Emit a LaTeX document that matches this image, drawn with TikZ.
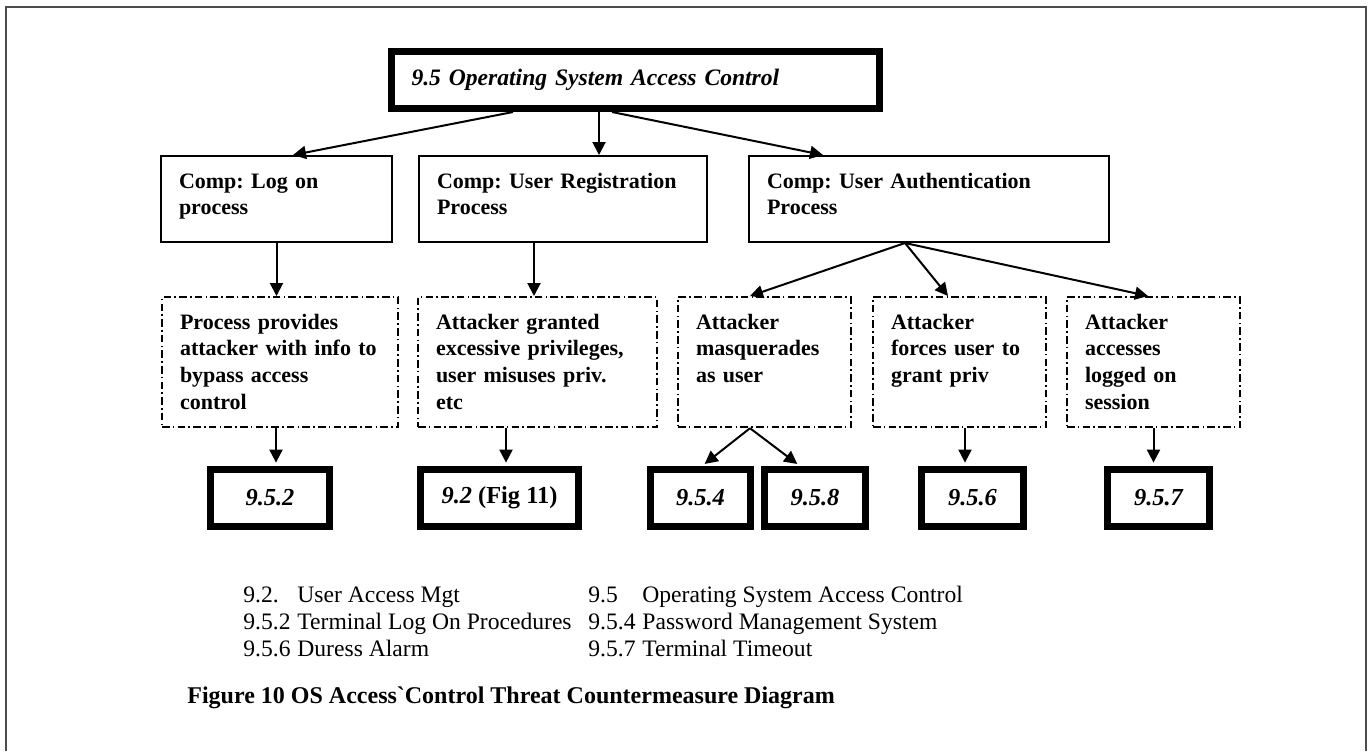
\documentclass[tikz,border=0pt]{standalone}
\usepackage{fontspec}
\setmainfont{Liberation Serif}
\usetikzlibrary{arrows.meta}

\begin{document}
\frenchspacing
\fontsize{11}{13.4}\selectfont
\begin{tikzpicture}[x=0.5pt,y=-0.5pt,
    every node/.style={inner sep=0pt},
    topbox/.style={draw,line width=3.5pt,inner xsep=10pt,text width=224pt,
        minimum height=28.5pt,align=left,font=\fontsize{11.8}{14}\selectfont\bfseries\itshape},
    compbox/.style={draw,line width=1pt,inner xsep=9pt,align=left,anchor=north,
        text height=16pt,text depth=27pt,font=\bfseries},
    threatbox/.style={draw,line width=1.1pt,dash pattern=on 3.8pt off 1.6pt on 0.8pt off 1.6pt,
        inner xsep=9pt,align=left,anchor=north,text height=16pt,text depth=49pt,font=\bfseries},
    ctrlbox/.style={draw,line width=3.5pt,minimum height=28.5pt,
        font=\fontsize{12.2}{14}\selectfont\bfseries\itshape},
    arr/.style={-{Triangle[length=6.5pt,width=6.5pt]},line width=1pt},
    toctrl/.style={arr,shorten >=1.7pt}]
    \useasboundingbox (0,0) rectangle (1370,751);

    % frame
    \draw[line width=1pt,black!70] (6,751) -- (6,7) -- (1366,7) -- (1366,751);

    % top
    \node[topbox] (osac) at (635.5,80) {9.5 Operating System Access Control};

    % components
    \node[compbox,text width=97.5pt] (logon) at (276.5,155) {Comp: Log on\\process};
    \node[compbox,text width=126pt] (reg) at (563,155) {Comp: User Registration\\Process};
    \node[compbox,text width=162pt] (auth) at (929,155) {Comp: User Authentication\\Process};

    % threats
    \node[threatbox,text width=100pt] (bypass) at (280,296)
        {Process provides\\attacker with info to\\bypass access\\control};
    \node[threatbox,text width=101.5pt] (excess) at (537.5,296)
        {Attacker granted\\excessive privileges,\\user misuses priv.\\etc};
    \node[threatbox,text width=68.5pt] (masq) at (764.5,296)
        {Attacker\\masquerades\\as user};
    \node[threatbox,text width=68.5pt] (forces) at (959.5,296)
        {Attacker\\forces user to\\grant priv};
    \node[threatbox,text width=68.5pt] (session) at (1153.5,296)
        {Attacker\\accesses\\logged on\\session};

    % countermeasures
    \node[ctrlbox,minimum width=59.5pt] (c952) at (270,498) {9.5.2};
    \node[ctrlbox,minimum width=79pt] (c92) at (499.5,498) {9.2 \upshape(Fig 11)};
    \node[ctrlbox,minimum width=50pt] (c954) at (700.5,498) {9.5.4};
    \node[ctrlbox,minimum width=50.5pt] (c958) at (815,498) {9.5.8};
    \node[ctrlbox,minimum width=51pt] (c956) at (972.5,498) {9.5.6};
    \node[ctrlbox,minimum width=51pt] (c957) at (1158.5,498) {9.5.7};

    % arrows
    \draw[arr] ([xshift=-61.25pt]osac.south) -- ([xshift=8.25pt]logon.north);
    \draw[arr] ([xshift=-18.25pt]osac.south) -- ([xshift=18pt]reg.north);
    \draw[arr] ([xshift=-11.75pt]osac.south) -- ([xshift=-53pt]auth.north);

    \draw[arr] (logon.south) -- (logon.south |- bypass.north);
    \draw[arr] ([xshift=-14.5pt]reg.south) -- ([xshift=-14.5pt]reg.south |- excess.north);
    \draw[arr] ([xshift=-12pt]auth.south) -- ([xshift=-7.25pt]masq.north);
    \draw[arr] ([xshift=-12pt]auth.south) -- ([xshift=-5.75pt]forces.north);
    \draw[arr] ([xshift=-12pt]auth.south) -- ([xshift=-2.75pt]session.north);

    \draw[toctrl] ([xshift=-2pt]bypass.south) -- ([xshift=-2pt]bypass.south |- c952.north);
    \draw[toctrl] ([xshift=-15.75pt]excess.south) -- ([xshift=-15.75pt]excess.south |- c92.north);
    \draw[toctrl] ([xshift=-7.25pt]masq.south) -- ([xshift=0.75pt]c954.north);
    \draw[toctrl] ([xshift=-7.25pt]masq.south) -- ([xshift=-7.5pt]c958.north);
    \draw[toctrl] ([xshift=2.75pt]forces.south) -- ([xshift=2.75pt]forces.south |- c956.north);
    \draw[toctrl] (session.south) -- (session.south |- c957.north);

    % legend
    \node[anchor=base west,font=\fontsize{11.8}{13.5}\selectfont] (legend) at (243,602) {%
        \begin{tabular}[t]{@{}p{27pt}@{}p{145.5pt}@{}p{27pt}@{}l@{}}
        9.2. & User Access Mgt & 9.5 & Operating System Access Control\\
        9.5.2 & Terminal Log On Procedures & 9.5.4 & Password Management System\\
        9.5.6 & Duress Alarm & 9.5.7 & Terminal Timeout
        \end{tabular}};
    \node[anchor=base west,font=\fontsize{12}{14}\selectfont\bfseries] (caption) at (187,703)
        {Figure 10 OS Access\textasciigrave Control Threat Countermeasure Diagram};
\end{tikzpicture}
\end{document}
